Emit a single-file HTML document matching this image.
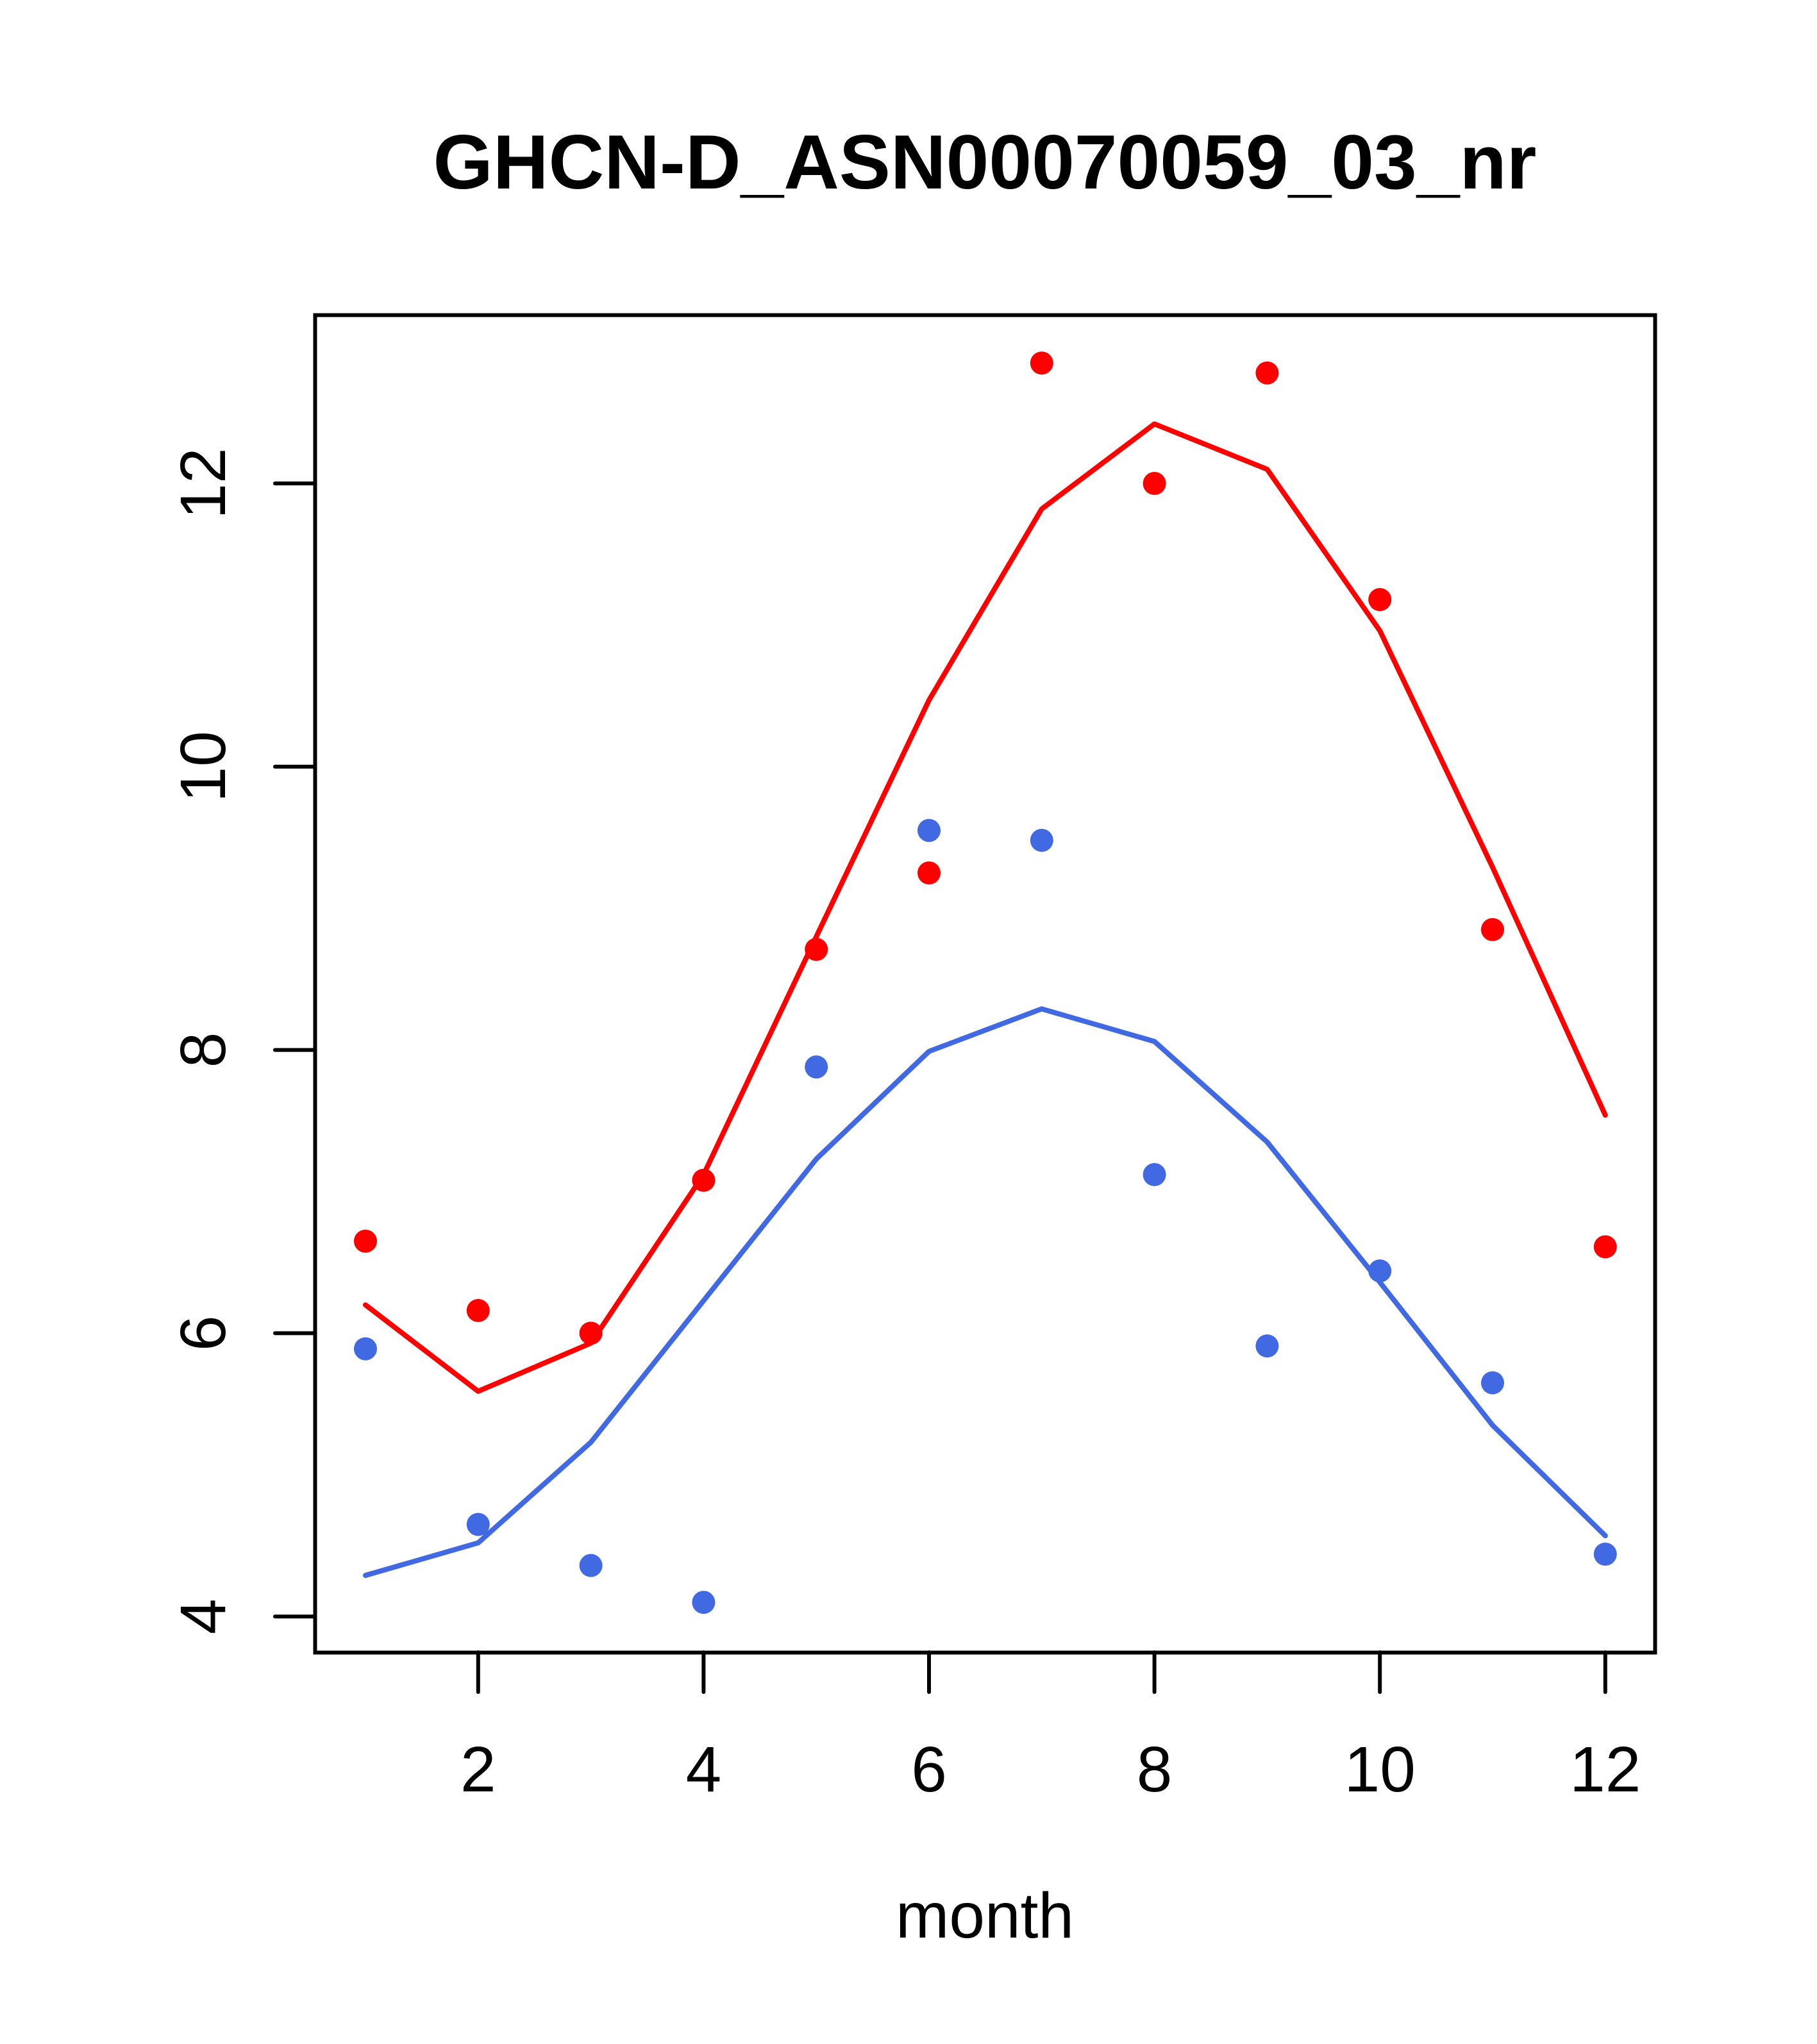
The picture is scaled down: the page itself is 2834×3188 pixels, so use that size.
<!DOCTYPE html>
<html><head><meta charset="utf-8"><style>html,body{margin:0;padding:0;background:#fff}svg{display:block}</style></head>
<body>
<svg id="chart" width="2834" height="3188" viewBox="0 0 2834 3188" xmlns="http://www.w3.org/2000/svg" font-family="'Liberation Sans', Arial, sans-serif">
<rect width="2834" height="3188" fill="#fff"/>
<text x="1536" y="294" font-size="120" font-weight="bold" text-anchor="middle">GHCN-D_ASN00070059_03_nr</text>
<text x="1536" y="3022" font-size="100" text-anchor="middle">month</text>
<g id="axes"></g>
<g id="marks"></g>
<rect x="491.5" y="491.5" width="2090" height="2086" fill="none" stroke="#000" stroke-width="6"/>
</svg>
<script>
const months = [1,2,3,4,5,6,7,8,9,10,11,12];
const redPoints = [6.65,6.16,6.0,7.08,8.71,9.25,12.85,12.0,12.78,11.18,8.85,6.61];
const redLine = [6.20,5.59,5.93,7.12,8.80,10.47,11.82,12.42,12.10,10.96,9.29,7.54];
const bluePoints = [5.89,4.65,4.36,4.10,7.88,9.55,9.48,7.12,5.91,6.44,5.65,4.44];
const blueLine = [4.29,4.52,5.23,6.23,7.23,7.99,8.29,8.06,7.35,6.36,5.35,4.57];
const xTicks = [2,4,6,8,10,12];
const yTicks = [4,6,8,10,12];

const NS = 'http://www.w3.org/2000/svg';
const xs = m => 570 + (m - 1) * 175.8;
const ys = v => 754 + (12 - v) * 220.9;
function mk(tag, attrs, parent){const e=document.createElementNS(NS,tag);for(const k in attrs)e.setAttribute(k,attrs[k]);parent.appendChild(e);return e;}
const axes = document.getElementById('axes');
const marks = document.getElementById('marks');

xTicks.forEach(t => {
  const l = mk('line',{x1:xs(t),x2:xs(t),y1:2577,y2:2639,stroke:'#000','stroke-width':6,'stroke-linecap':'round'},axes);
  
  
  const tx = mk('text',{x:xs(t),y:2794,'font-size':100,'text-anchor':'middle'},axes);
  tx.textContent = t;
  
  
});
yTicks.forEach(t => {
  const y = ys(t);
  const l = mk('line',{x1:429,x2:491.5,y1:y,y2:y,stroke:'#000','stroke-width':6,'stroke-linecap':'round'},axes);
  
  
  const tx = mk('text',{x:0,y:0,'font-size':100,'text-anchor':'middle',transform:`translate(351,${y}) rotate(-90)`},axes);
  tx.textContent = t;
  
  
});

function drawLine(vals, color, name){
  const p = mk('polyline',{points:vals.map((v,i)=>xs(months[i])+','+ys(v)).join(' '),fill:'none',stroke:color,'stroke-width':8,'stroke-linecap':'round','stroke-linejoin':'round'},marks);
  
  
}
function drawPoints(vals, color, name){
  vals.forEach((v,i)=>{
    const c = mk('circle',{cx:xs(months[i]),cy:ys(v),r:18,fill:color},marks);
    
    
  });
}
drawLine(redLine,'#ff0000','red-fit-line');
drawLine(blueLine,'#4169e1','blue-fit-line');
drawPoints(redPoints,'#ff0000','red-point');
drawPoints(bluePoints,'#4169e1','blue-point');
</script>
</body></html>
